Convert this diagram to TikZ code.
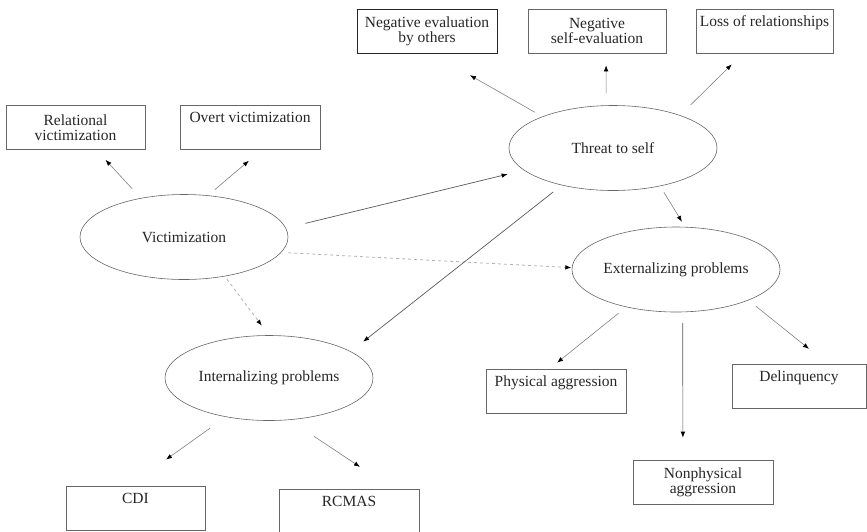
\documentclass[tikz,border=0pt]{standalone}
\usepackage{fontspec}
\setmainfont{Liberation Serif}
\usetikzlibrary{arrows.meta,shapes.geometric}
\begin{document}
\begin{tikzpicture}[x=1pt,y=-1pt,
  every node/.style={font=\fontsize{15.5}{15}\selectfont, text=black!85},
  oval/.style={ellipse, draw=black!60, line width=0.6pt, minimum width=208pt, minimum height=85pt, inner sep=0pt},
  boxnode/.style={rectangle, draw=black!60, line width=0.6pt, minimum width=139pt, minimum height=44pt, inner sep=0pt, align=center},
  arr/.style={draw=black!50, line width=0.6pt, -{Latex[length=6pt,width=4.5pt,color=black]}},
  darkarr/.style={arr, draw=black!65, line width=0.7pt},
  darr/.style={draw=black!30, line width=0.8pt, dash pattern=on 3pt off 3pt, -{Latex[length=6pt,width=4.5pt,color=black]}}
]
\useasboundingbox (0,0) rectangle (867,531);

% ellipses
\node[oval] (vic) at (184,237) {Victimization};
\node[oval] (threat) at (613,148) {Threat to self};
\node[oval] (ext) at (676,269.5) {Externalizing problems};
\node[oval] (int) at (269,378) {Internalizing problems};

% boxes
\node[boxnode] (rel) at (75.5,127.5) {Relational\\victimization};
\node[boxnode, minimum width=140pt] (overt) at (250,127.5) {Overt victimization\\\strut};
\node[boxnode, minimum width=140pt, draw=black!85, line width=0.8pt] (negoth) at (427,31.5) {Negative evaluation\\by others};
\node[boxnode, minimum width=138pt] (negself) at (597,31) {Negative\\self-evaluation};
\node[boxnode, minimum width=137pt] (loss) at (764.5,31) {Loss of relationships\\\strut};
\node[boxnode, minimum width=140pt] (phys) at (556,391) {Physical aggression\\\strut};
\node[boxnode, minimum width=134pt] (delinq) at (799,386) {Delinquency\\\strut};
\node[boxnode, minimum width=140pt] (nonphys) at (703,482) {Nonphysical\\aggression};
\node[boxnode] (cdi) at (135.5,508.5) {CDI\\\strut};
\node[boxnode, minimum width=140pt] (rcmas) at (349,511) {RCMAS\\\strut};

% connectors
\draw[arr, shorten <=12.6pt, shorten >=13.7pt] (vic.138) -- (rel.-47);
\draw[arr, shorten <=8.8pt, shorten >=17pt] (vic.60) -- (overt.-62);
\draw[arr, shorten <=8.7pt, shorten >=43pt] (threat.156) -- (negoth.-76);
\draw[arr, shorten <=12pt, shorten >=12pt] (threat.99) -- (negself.-68);
\draw[arr, shorten <=14.7pt, shorten >=15.7pt] (threat.26) -- (loss.-134);
\draw[darkarr, shorten <=20pt, shorten >=16.7pt] (vic.5) -- (threat.-166);
\draw[darr, shorten <=7pt, shorten >=0.5pt] (vic.-9) -- (ext.179);
\draw[darr, shorten <=3.5pt, shorten >=12pt] (vic.-44) -- (int.90);
\draw[darkarr, shorten <=10.9pt, shorten >=15.8pt] (threat.-144) -- (int.18);
\draw[arr, shorten <=7.2pt, shorten >=6pt] (threat.-39) -- (ext.78);
\draw[arr, shorten <=9.8pt, shorten >=9.6pt] (ext.-143) -- (phys.106);
\draw[darkarr, shorten <=11pt, shorten >=22pt] (ext.-81) -- (nonphys.132);
\draw[arr, shorten <=9.5pt, shorten >=23.8pt] (ext.-23) -- (delinq.38);
\draw[arr, shorten <=19.3pt, shorten >=45.9pt] (int.-138) -- (cdi.107);
\draw[arr, shorten <=29.3pt, shorten >=39.4pt] (int.-64) -- (rcmas.27);
\end{tikzpicture}
\end{document}
